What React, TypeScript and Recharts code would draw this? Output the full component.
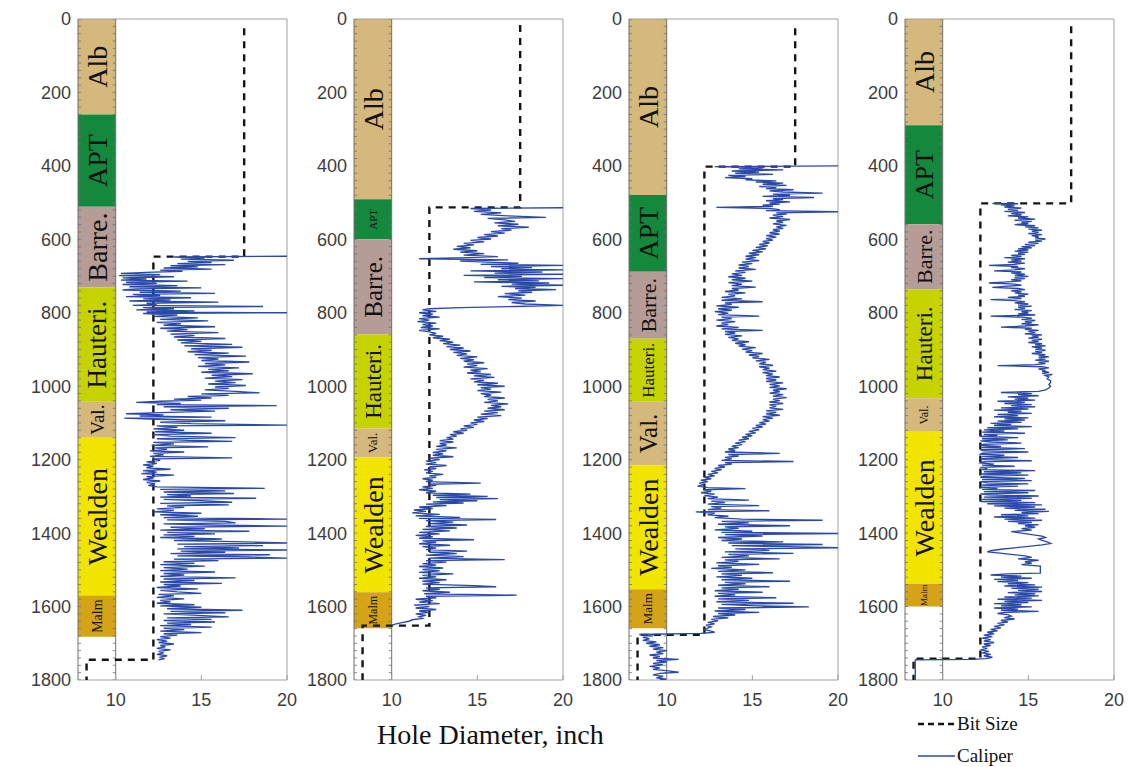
import { ComposedChart, ReferenceArea, ReferenceLine, Scatter, XAxis, YAxis } from 'recharts';

// ---- axes / ticks ----
const DEPTH_TICKS = [0, 200, 400, 600, 800, 1000, 1200, 1400, 1600, 1800];
const DIAM_TICKS = [10, 15, 20];
const X_MIN = 7.8;
const X_MAX = 20;
const COLUMN_EDGE = 10;
// ruler marks along the formation column, every 20 m
const RULER_TICKS = Array.from({ length: 91 }, (_, i) => i * 20);

// ---- formations: [name, top, base] (m) ----
const W1_FORMATIONS: [string, number, number][] = [
  ['Alb', 0, 260], ['APT', 260, 511], ['Barre.', 511, 731], ['Hauteri.', 731, 1042],
  ['Val.', 1042, 1140], ['Wealden', 1140, 1570], ['Malm', 1570, 1682],
];
const W2_FORMATIONS: [string, number, number][] = [
  ['Alb', 0, 491], ['APT', 491, 600], ['Barre.', 600, 859], ['Hauteri.', 859, 1115],
  ['Val.', 1115, 1194], ['Wealden', 1194, 1561], ['Malm', 1561, 1659],
];
const W3_FORMATIONS: [string, number, number][] = [
  ['Alb', 0, 479], ['APT', 479, 688], ['Barre.', 688, 871], ['Hauteri.', 871, 1042],
  ['Val.', 1042, 1215], ['Wealden', 1215, 1553], ['Malm', 1553, 1659],
];
const W4_FORMATIONS: [string, number, number][] = [
  ['Alb', 0, 289], ['APT', 289, 559], ['Barre.', 559, 736], ['Hauteri.', 736, 1033],
  ['Val.', 1033, 1124], ['Wealden', 1124, 1538], ['Malm', 1538, 1600],
];

// label font sizes, same order as the formations
const W1_LABEL_SIZES = [28, 28, 28, 27, 19, 28, 14];
const W2_LABEL_SIZES = [28, 11, 25, 23, 13, 28, 12];
const W3_LABEL_SIZES = [28, 28, 22, 17, 25, 28, 13];
const W4_LABEL_SIZES = [28, 26, 22, 23, 12, 28, 9];

// ---- bit size: [depth, diameter] ----
const W1_BIT: [number, number][] = [[25, 17.5], [647, 17.5], [647, 12.2], [1745, 12.2], [1745, 8.3], [1800, 8.3]];
const W2_BIT: [number, number][] = [[16, 17.5], [513, 17.5], [513, 12.2], [1652, 12.2], [1652, 8.3], [1800, 8.3]];
const W3_BIT: [number, number][] = [[25, 17.5], [402, 17.5], [402, 12.2], [1677, 12.2], [1677, 8.3], [1800, 8.3]];
const W4_BIT: [number, number][] = [[20, 17.5], [502, 17.5], [502, 12.2], [1742, 12.2], [1742, 8.3], [1800, 8.3]];

// ---- caliper: [depth, diameter] ----
const W1_CALIPER: [number, number][] = [
  [646, 20], [648, 13.4], [651, 15.2], [654, 13.8], [657, 16.9], [660, 14.2], [663, 15.6], [666, 13.6], [669, 16.4], [672, 13.2],
  [675, 14.8], [678, 12.8], [681, 15.6], [684, 12.6], [687, 13.9], [690, 11.8], [693, 10.3], [696, 12.6], [699, 10.2], [702, 13.4],
  [705, 10.4], [708, 11.8], [711, 10.3], [714, 14.2], [717, 10.6], [720, 12.4], [723, 10.4], [726, 13.6], [729, 10.8], [732, 15.0],
  [735, 11.2], [738, 10.4], [741, 13.8], [744, 11.4], [747, 15.8], [750, 11.0], [753, 12.6], [756, 10.6], [759, 14.4], [762, 11.6],
  [765, 13.2], [768, 10.8], [771, 16.0], [774, 11.8], [777, 12.4], [780, 11.0], [783, 18.6], [786, 11.6], [789, 13.4], [792, 11.2],
  [795, 14.6], [798, 11.8], [800, 20], [802, 11.6], [806, 13.6], [810, 12.2], [814, 14.8], [818, 12.6], [822, 15.4], [826, 12.4],
  [830, 13.8], [834, 12.8], [838, 15.8], [842, 12.6], [846, 14.2], [850, 13.0], [854, 16.0], [858, 13.2], [862, 14.6], [866, 13.4],
  [870, 16.4], [874, 13.6], [878, 15.0], [882, 13.8], [886, 16.8], [890, 14.0], [894, 17.4], [898, 14.4], [902, 15.6], [906, 14.2],
  [910, 16.6], [914, 14.6], [918, 17.6], [922, 14.8], [926, 16.0], [930, 15.0], [934, 17.8], [938, 15.2], [942, 16.4], [946, 14.8],
  [950, 17.2], [954, 15.4], [958, 16.6], [962, 15.0], [966, 18.0], [970, 15.6], [974, 16.8], [978, 15.2], [982, 17.4], [986, 15.8],
  [990, 17.0], [994, 15.4], [998, 17.6], [1002, 15.8], [1006, 16.6], [1010, 15.2], [1014, 17.0], [1018, 18.4], [1021, 15.0], [1025, 16.6],
  [1028, 14.2], [1032, 15.6], [1035, 13.4], [1038, 15.0], [1041, 12.6], [1044, 11.2], [1047, 13.8], [1050, 12.4], [1053, 19.4], [1056, 12.8],
  [1060, 16.6], [1064, 13.2], [1068, 15.8], [1072, 12.6], [1075, 10.6], [1078, 12.8], [1081, 11.4], [1084, 15.6], [1087, 10.5], [1090, 12.4],
  [1094, 16.4], [1098, 12.6], [1102, 14.4], [1106, 20], [1108, 12.4], [1112, 13.6], [1116, 12.2], [1120, 14.0], [1124, 12.3], [1128, 15.6],
  [1132, 12.2], [1136, 13.2], [1140, 17.0], [1143, 12.4], [1147, 14.2], [1150, 16.8], [1153, 12.2], [1157, 13.4], [1161, 12.1], [1165, 15.4],
  [1168, 12.3], [1172, 13.0], [1176, 12.0], [1179, 14.0], [1183, 12.2], [1187, 12.8], [1191, 12.0], [1195, 16.8], [1198, 12.2], [1202, 12.6],
  [1206, 11.8], [1210, 12.4], [1214, 11.6], [1218, 12.2], [1222, 11.8], [1226, 13.2], [1230, 11.6], [1234, 12.4], [1238, 11.5], [1242, 13.4],
  [1246, 11.8], [1250, 12.2], [1254, 11.6], [1258, 12.6], [1262, 11.8], [1266, 12.3], [1270, 11.9], [1274, 12.4], [1278, 18.7], [1281, 12.6],
  [1285, 16.4], [1288, 12.8], [1292, 16.9], [1295, 13.0], [1299, 14.4], [1302, 12.6], [1305, 18.2], [1308, 12.8], [1312, 15.0], [1316, 16.8],
  [1319, 12.6], [1323, 16.6], [1326, 13.0], [1330, 14.0], [1334, 12.4], [1338, 13.4], [1342, 12.2], [1346, 15.0], [1350, 12.6], [1354, 14.8],
  [1358, 12.8], [1362, 20], [1364, 13.0], [1368, 16.4], [1372, 17.0], [1375, 12.8], [1378, 15.6], [1381, 20], [1384, 13.2], [1388, 15.2],
  [1392, 12.6], [1395, 17.8], [1398, 13.0], [1402, 15.8], [1405, 12.8], [1409, 14.6], [1412, 12.6], [1416, 16.2], [1420, 13.4], [1424, 17.6],
  [1427, 20], [1430, 13.6], [1434, 18.6], [1437, 14.0], [1440, 17.2], [1443, 13.6], [1446, 20], [1449, 13.8], [1452, 16.4], [1456, 13.2],
  [1459, 19.0], [1462, 13.6], [1465, 17.8], [1468, 20], [1471, 13.4], [1475, 16.0], [1478, 12.8], [1482, 14.6], [1486, 12.6], [1490, 15.2],
  [1494, 12.8], [1498, 14.2], [1502, 12.6], [1506, 15.8], [1510, 12.8], [1514, 14.0], [1518, 12.6], [1522, 17.0], [1525, 12.8], [1529, 14.6],
  [1533, 12.6], [1537, 16.2], [1540, 12.8], [1544, 13.8], [1548, 12.4], [1552, 14.8], [1556, 12.6], [1560, 13.6], [1564, 15.0], [1567, 12.5],
  [1571, 13.4], [1575, 12.4], [1579, 14.0], [1583, 12.6], [1587, 13.2], [1591, 12.4], [1595, 14.6], [1598, 12.6], [1602, 15.0], [1606, 13.0],
  [1610, 17.4], [1613, 13.2], [1617, 16.4], [1620, 12.8], [1624, 14.8], [1628, 16.6], [1631, 13.0], [1635, 15.6], [1638, 12.8], [1642, 15.8],
  [1645, 13.0], [1649, 14.4], [1652, 12.6], [1656, 15.6], [1659, 12.8], [1663, 14.0], [1667, 12.6], [1671, 15.0], [1674, 12.8], [1678, 13.6],
  [1682, 12.6], [1686, 13.2], [1690, 12.4], [1694, 13.0], [1698, 12.5], [1702, 13.4], [1706, 12.6], [1710, 12.9], [1714, 12.4], [1718, 13.2],
  [1722, 12.5], [1726, 12.8], [1730, 12.4], [1734, 13.0], [1738, 12.6], [1742, 12.8], [1745, 12.5],
];

const W2_CALIPER: [number, number][] = [
  [514, 20], [516, 14.6], [520, 15.8], [524, 14.8], [528, 16.4], [532, 15.2], [536, 16.8], [540, 19.0], [543, 15.6], [547, 16.6],
  [551, 17.2], [555, 16.0], [559, 17.4], [563, 16.2], [567, 18.0], [571, 16.4], [575, 17.0], [579, 15.8], [583, 16.6], [587, 15.4],
  [591, 16.2], [595, 15.0], [599, 15.8], [603, 14.6], [607, 15.4], [611, 14.2], [615, 14.8], [619, 13.8], [623, 14.6], [627, 13.6],
  [631, 15.0], [635, 14.0], [639, 15.4], [643, 14.2], [647, 16.2], [650, 14.4], [653, 11.6], [656, 16.8], [659, 14.0], [662, 15.6],
  [665, 17.4], [668, 15.2], [671, 20], [674, 15.8], [677, 18.2], [680, 16.4], [683, 20], [686, 14.6], [689, 18.8], [692, 16.0],
  [695, 20], [698, 14.2], [701, 17.6], [704, 15.4], [707, 20], [710, 16.2], [713, 18.6], [716, 14.8], [719, 19.2], [722, 17.0],
  [725, 20], [728, 16.4], [731, 18.4], [734, 17.2], [737, 19.6], [740, 17.4], [744, 18.2], [748, 16.6], [752, 17.8], [756, 16.2],
  [760, 17.6], [764, 16.8], [768, 18.4], [772, 17.0], [776, 17.8], [780, 20], [783, 17.2], [786, 14.0], [789, 12.2], [792, 11.8],
  [796, 12.6], [800, 11.6], [804, 12.4], [808, 11.8], [812, 12.8], [816, 11.6], [820, 12.2], [824, 11.5], [828, 12.6], [832, 11.8],
  [836, 12.4], [840, 11.7], [844, 12.8], [848, 11.6], [852, 12.2], [856, 12.6], [860, 12.2], [864, 13.0], [868, 12.4], [872, 13.4],
  [876, 12.8], [880, 13.6], [884, 13.0], [888, 14.0], [892, 13.2], [896, 14.2], [900, 13.4], [904, 14.6], [908, 13.6], [912, 14.4],
  [916, 13.8], [920, 15.0], [924, 14.0], [928, 14.8], [932, 14.2], [936, 15.4], [940, 14.4], [944, 15.0], [948, 14.2], [952, 15.6],
  [956, 14.6], [960, 15.2], [964, 14.4], [968, 15.8], [972, 14.8], [976, 16.0], [980, 14.6], [984, 15.4], [988, 14.8], [992, 16.2],
  [996, 15.0], [1000, 16.6], [1004, 15.2], [1008, 15.8], [1012, 15.0], [1016, 16.4], [1020, 15.2], [1024, 15.8], [1028, 15.4], [1032, 16.6],
  [1036, 15.6], [1040, 16.2], [1044, 15.4], [1048, 16.8], [1052, 15.8], [1056, 16.4], [1060, 15.6], [1064, 16.6], [1068, 15.4], [1072, 16.2],
  [1076, 15.2], [1080, 16.4], [1084, 15.0], [1088, 15.6], [1092, 14.8], [1096, 15.4], [1100, 14.6], [1104, 15.0], [1108, 14.2], [1112, 14.8],
  [1116, 14.0], [1120, 14.4], [1124, 13.6], [1128, 14.2], [1132, 13.4], [1136, 13.8], [1140, 13.2], [1144, 13.6], [1148, 12.8], [1152, 13.6],
  [1156, 12.8], [1160, 13.2], [1164, 12.6], [1168, 13.8], [1172, 12.6], [1176, 13.2], [1180, 12.4], [1184, 13.0], [1188, 12.4], [1192, 13.6],
  [1196, 12.2], [1200, 12.8], [1204, 12.0], [1208, 12.6], [1212, 12.0], [1216, 13.2], [1220, 12.2], [1224, 12.6], [1228, 11.9], [1232, 12.4],
  [1236, 12.0], [1240, 13.0], [1244, 12.2], [1248, 12.6], [1252, 11.8], [1256, 12.4], [1260, 12.0], [1264, 15.2], [1267, 12.2], [1270, 12.6],
  [1274, 11.8], [1278, 12.4], [1282, 11.6], [1286, 12.6], [1290, 12.0], [1294, 14.6], [1297, 12.4], [1300, 15.6], [1303, 12.6], [1306, 16.2],
  [1309, 12.8], [1312, 15.0], [1315, 12.4], [1318, 14.2], [1321, 12.0], [1325, 13.2], [1329, 11.6], [1333, 12.4], [1337, 11.3], [1341, 12.0],
  [1345, 11.2], [1349, 12.8], [1353, 11.4], [1357, 14.0], [1360, 11.6], [1363, 16.1], [1366, 12.0], [1370, 13.6], [1374, 12.2], [1378, 14.4],
  [1382, 12.0], [1386, 13.8], [1390, 11.8], [1394, 13.4], [1398, 11.6], [1402, 12.8], [1406, 11.4], [1410, 12.4], [1414, 11.6], [1418, 14.8],
  [1421, 11.8], [1425, 12.6], [1429, 11.6], [1433, 13.4], [1437, 11.8], [1441, 12.6], [1445, 12.0], [1449, 14.4], [1452, 12.2], [1456, 13.8],
  [1460, 12.0], [1464, 14.2], [1468, 12.2], [1472, 16.6], [1475, 12.0], [1479, 13.2], [1483, 11.8], [1487, 12.6], [1491, 11.6], [1495, 13.0],
  [1499, 11.8], [1503, 12.8], [1507, 11.6], [1511, 13.6], [1515, 11.8], [1519, 12.6], [1523, 11.6], [1527, 13.2], [1531, 11.8], [1535, 12.8],
  [1539, 11.8], [1543, 14.8], [1546, 16.1], [1549, 12.0], [1553, 12.8], [1557, 11.8], [1561, 13.4], [1565, 11.9], [1569, 17.3], [1572, 12.0],
  [1576, 12.6], [1580, 11.4], [1584, 12.4], [1588, 11.6], [1592, 12.8], [1596, 11.3], [1600, 12.2], [1604, 11.4], [1608, 12.6], [1612, 11.6],
  [1616, 12.2], [1620, 11.4], [1624, 12.0], [1628, 11.6], [1632, 11.8], [1636, 11.2], [1640, 11.0], [1644, 10.6], [1648, 10.2], [1651, 10.0],
];

const W3_CALIPER: [number, number][] = [
  [400, 20], [402, 12.8], [405, 15.6], [408, 14.2], [411, 16.8], [414, 13.8], [417, 15.4], [420, 14.0], [423, 16.2], [426, 13.6],
  [429, 14.6], [432, 13.4], [435, 15.0], [438, 14.6], [441, 16.4], [444, 15.2], [447, 16.8], [450, 15.6], [453, 17.0], [456, 15.4],
  [459, 16.4], [462, 15.8], [465, 17.4], [468, 16.0], [471, 16.8], [474, 19.1], [477, 16.2], [480, 17.2], [483, 15.6], [486, 18.6],
  [489, 16.2], [492, 16.8], [495, 15.8], [498, 17.2], [501, 16.0], [504, 16.6], [507, 15.6], [510, 16.2], [513, 12.9], [516, 16.0],
  [519, 16.6], [522, 15.8], [525, 20], [528, 16.4], [531, 17.0], [534, 16.2], [538, 16.8], [542, 16.0], [546, 17.2], [550, 16.4],
  [554, 16.8], [558, 16.2], [562, 17.0], [566, 16.4], [570, 16.8], [574, 16.2], [578, 16.6], [582, 16.0], [586, 16.6], [590, 15.8],
  [594, 16.4], [598, 15.8], [602, 16.2], [606, 15.6], [610, 16.0], [614, 15.4], [618, 15.9], [622, 15.2], [626, 15.8], [630, 15.0],
  [634, 15.6], [638, 14.8], [642, 15.4], [646, 14.6], [650, 15.2], [654, 14.6], [658, 15.4], [662, 14.4], [666, 15.0], [670, 14.2],
  [674, 14.8], [678, 14.2], [682, 15.2], [686, 14.0], [690, 14.6], [694, 13.8], [698, 14.4], [702, 13.6], [706, 14.6], [710, 13.8],
  [714, 15.0], [718, 13.6], [722, 14.4], [726, 13.8], [730, 15.2], [734, 13.8], [738, 14.2], [742, 13.4], [746, 14.6], [750, 13.6],
  [754, 14.0], [758, 13.2], [762, 14.4], [766, 13.2], [770, 15.6], [773, 13.4], [777, 13.8], [781, 12.9], [785, 14.2], [789, 13.0],
  [793, 13.8], [797, 12.8], [801, 13.6], [805, 13.0], [809, 15.4], [812, 13.2], [816, 13.8], [820, 12.9], [824, 14.0], [828, 13.2],
  [832, 13.6], [836, 12.9], [840, 14.2], [844, 13.2], [848, 15.6], [851, 13.4], [855, 14.0], [859, 13.4], [863, 14.4], [867, 13.6],
  [871, 14.2], [875, 13.8], [879, 14.8], [883, 14.0], [887, 14.6], [891, 14.2], [895, 15.2], [899, 14.4], [903, 15.0], [907, 14.6],
  [911, 15.6], [915, 14.8], [919, 15.4], [923, 15.0], [927, 16.0], [931, 15.2], [935, 15.8], [939, 15.4], [943, 16.2], [947, 15.4],
  [951, 16.0], [955, 15.6], [959, 16.4], [963, 15.6], [967, 16.2], [971, 15.8], [975, 16.6], [979, 15.8], [983, 16.4], [987, 15.8],
  [991, 16.8], [995, 16.0], [999, 16.6], [1003, 16.0], [1007, 17.0], [1011, 16.2], [1015, 16.6], [1019, 16.0], [1023, 16.8], [1027, 16.2],
  [1031, 17.0], [1035, 16.2], [1039, 16.6], [1043, 16.0], [1047, 16.8], [1051, 16.0], [1055, 16.4], [1059, 16.0], [1063, 16.8], [1067, 15.8],
  [1071, 16.4], [1075, 15.8], [1079, 16.6], [1083, 15.6], [1087, 16.2], [1091, 15.6], [1095, 16.0], [1099, 15.4], [1103, 15.8], [1107, 15.2],
  [1111, 15.6], [1115, 15.0], [1119, 15.4], [1123, 14.8], [1127, 15.2], [1131, 14.6], [1135, 15.0], [1139, 14.4], [1143, 14.8], [1147, 14.2],
  [1151, 14.6], [1155, 14.0], [1159, 14.4], [1163, 13.8], [1167, 14.2], [1171, 13.6], [1175, 14.0], [1179, 13.4], [1183, 16.6], [1186, 13.6],
  [1190, 14.2], [1194, 13.4], [1198, 13.8], [1202, 13.2], [1205, 17.4], [1208, 13.4], [1212, 13.8], [1216, 13.0], [1220, 13.4], [1224, 12.8],
  [1228, 13.2], [1232, 12.6], [1236, 13.0], [1240, 12.4], [1244, 12.8], [1248, 12.2], [1252, 12.6], [1256, 12.0], [1260, 12.4], [1264, 11.9],
  [1268, 12.2], [1272, 11.8], [1276, 12.4], [1279, 14.6], [1282, 12.2], [1286, 12.6], [1290, 12.0], [1294, 12.8], [1298, 12.2], [1302, 13.0],
  [1306, 12.4], [1310, 14.8], [1313, 12.6], [1317, 13.4], [1321, 12.4], [1325, 15.4], [1328, 12.6], [1332, 13.2], [1336, 12.4], [1339, 16.0],
  [1342, 11.7], [1346, 12.8], [1350, 12.4], [1354, 13.6], [1358, 12.8], [1362, 14.4], [1365, 19.1], [1368, 13.2], [1372, 14.8], [1376, 13.0],
  [1380, 17.2], [1383, 13.4], [1387, 14.2], [1391, 12.8], [1395, 15.0], [1398, 13.2], [1401, 20], [1404, 13.4], [1408, 15.6], [1412, 13.0],
  [1416, 14.4], [1420, 13.2], [1424, 16.8], [1427, 13.6], [1431, 19.1], [1434, 13.8], [1437, 17.0], [1440, 20], [1443, 14.0], [1447, 16.0],
  [1451, 13.4], [1455, 17.4], [1458, 13.6], [1462, 14.8], [1466, 13.2], [1470, 16.6], [1473, 13.4], [1477, 14.2], [1481, 12.9], [1485, 15.4],
  [1489, 13.0], [1493, 13.8], [1496, 12.6], [1500, 14.6], [1504, 13.0], [1508, 16.2], [1511, 13.2], [1515, 14.4], [1519, 12.9], [1523, 15.0],
  [1527, 13.2], [1531, 17.2], [1534, 13.4], [1538, 14.6], [1542, 13.0], [1546, 16.0], [1549, 13.2], [1553, 14.2], [1557, 12.8], [1561, 15.6],
  [1564, 13.0], [1568, 14.0], [1572, 12.8], [1576, 16.4], [1579, 13.0], [1583, 14.8], [1587, 12.9], [1591, 17.4], [1594, 13.2], [1598, 15.2],
  [1601, 18.3], [1604, 13.0], [1608, 14.6], [1612, 12.8], [1616, 15.4], [1619, 13.0], [1623, 14.0], [1627, 12.7], [1631, 13.6], [1635, 12.6],
  [1639, 13.0], [1643, 12.4], [1647, 12.8], [1651, 12.3], [1655, 12.6], [1659, 12.4], [1663, 12.2], [1667, 12.6], [1670, 12.8], [1673, 12.0],
  [1676, 8.4], [1680, 9.2], [1684, 8.6], [1688, 9.0], [1692, 8.6], [1696, 9.4], [1700, 8.8], [1704, 9.6], [1708, 9.0], [1712, 9.8],
  [1716, 9.2], [1720, 10.0], [1724, 9.4], [1728, 9.8], [1732, 9.0], [1736, 9.6], [1740, 9.2], [1744, 10.7], [1747, 9.4], [1751, 10.0],
  [1755, 9.2], [1759, 9.8], [1763, 9.0], [1767, 9.6], [1771, 9.2], [1775, 10.1], [1779, 10.7], [1782, 9.6], [1786, 9.2], [1790, 9.8],
  [1794, 9.4], [1798, 10.0], [1800, 9.6],
];

const W4_CALIPER: [number, number][] = [
  [502, 12.9], [503, 14.4], [506, 13.4], [509, 14.2], [512, 13.6], [515, 14.6], [518, 13.8], [521, 14.4], [524, 13.6], [527, 14.8],
  [530, 14.0], [533, 14.6], [536, 13.8], [539, 15.0], [542, 14.4], [545, 15.4], [548, 14.2], [551, 15.2], [554, 14.6], [557, 15.0],
  [560, 14.2], [563, 15.4], [566, 14.8], [569, 15.6], [572, 15.0], [575, 15.8], [578, 15.2], [581, 15.6], [584, 15.0], [587, 15.8],
  [590, 15.2], [593, 15.6], [596, 15.4], [599, 16.0], [602, 15.4], [605, 15.8], [608, 15.0], [611, 15.6], [614, 14.8], [617, 15.4],
  [620, 14.6], [623, 15.2], [626, 14.4], [629, 15.0], [632, 14.2], [635, 15.0], [638, 14.4], [641, 14.8], [644, 14.0], [647, 14.6],
  [650, 13.6], [653, 14.8], [656, 14.0], [659, 14.6], [662, 13.8], [665, 14.8], [668, 14.2], [671, 12.7], [674, 14.4], [677, 14.0],
  [680, 14.8], [683, 14.2], [686, 13.0], [689, 14.6], [692, 14.0], [695, 14.8], [698, 14.2], [701, 15.0], [704, 14.2], [707, 14.8],
  [710, 14.0], [713, 14.6], [716, 13.8], [719, 12.7], [722, 14.2], [725, 14.6], [728, 13.6], [731, 12.9], [734, 14.4], [737, 14.8],
  [740, 14.0], [743, 14.6], [746, 14.2], [749, 15.0], [752, 14.4], [755, 14.8], [758, 13.8], [761, 14.6], [764, 12.8], [767, 14.2],
  [770, 14.8], [773, 14.2], [776, 15.0], [779, 14.4], [782, 15.2], [785, 14.4], [788, 14.8], [791, 14.2], [794, 15.2], [797, 14.6],
  [800, 15.0], [803, 14.4], [806, 15.4], [809, 12.8], [812, 14.6], [815, 15.2], [818, 14.6], [821, 15.4], [824, 14.8], [827, 15.2],
  [830, 14.6], [833, 15.6], [836, 14.8], [839, 13.4], [842, 15.2], [845, 14.8], [848, 15.6], [851, 15.0], [854, 15.4], [857, 14.8],
  [860, 15.8], [863, 15.2], [866, 15.6], [869, 15.0], [872, 15.8], [875, 15.2], [878, 15.6], [881, 15.0], [884, 15.8], [887, 15.4],
  [890, 16.0], [893, 15.2], [896, 15.8], [899, 15.4], [902, 16.0], [905, 15.4], [908, 15.8], [911, 15.2], [914, 16.0], [917, 15.6],
  [920, 16.2], [923, 15.6], [926, 16.0], [929, 15.4], [932, 16.2], [935, 15.6], [938, 16.0], [941, 15.4], [944, 13.2], [947, 15.8],
  [950, 16.2], [953, 15.6], [956, 16.0], [959, 15.8], [962, 16.2], [965, 15.8], [968, 16.4], [971, 16.0], [975, 16.2], [980, 16.1],
  [985, 16.3], [990, 16.3], [995, 16.2], [1000, 16.3], [1005, 16.2], [1010, 16.0], [1014, 15.6], [1017, 13.4], [1020, 15.2], [1023, 14.4],
  [1026, 15.6], [1029, 13.8], [1032, 15.0], [1035, 14.2], [1038, 15.4], [1041, 13.2], [1044, 14.8], [1047, 13.6], [1050, 15.2], [1053, 14.0],
  [1056, 15.4], [1059, 13.4], [1062, 15.0], [1065, 13.0], [1068, 14.6], [1071, 13.8], [1074, 15.2], [1077, 13.2], [1080, 14.4], [1083, 13.0],
  [1086, 15.0], [1089, 13.6], [1092, 14.8], [1095, 13.2], [1098, 14.6], [1101, 12.8], [1104, 14.0], [1107, 13.0], [1110, 15.2], [1113, 12.6],
  [1116, 14.4], [1119, 12.4], [1122, 13.6], [1125, 12.3], [1128, 14.8], [1131, 12.4], [1134, 13.2], [1137, 12.2], [1140, 14.4], [1143, 12.3],
  [1146, 13.8], [1149, 12.2], [1152, 12.8], [1155, 14.6], [1158, 12.4], [1161, 12.2], [1164, 13.4], [1167, 12.3], [1170, 14.8], [1173, 12.2],
  [1176, 12.4], [1179, 15.0], [1182, 12.3], [1185, 12.2], [1188, 13.6], [1191, 12.3], [1194, 14.4], [1197, 12.2], [1200, 12.4], [1203, 15.2],
  [1206, 12.3], [1209, 12.2], [1212, 13.0], [1215, 12.3], [1218, 14.2], [1221, 12.2], [1224, 12.6], [1227, 12.3], [1230, 15.4], [1233, 12.4],
  [1236, 14.6], [1239, 12.2], [1242, 15.0], [1245, 12.4], [1248, 12.2], [1251, 14.8], [1254, 12.3], [1257, 15.2], [1260, 12.2], [1263, 12.6],
  [1266, 15.0], [1269, 12.3], [1272, 14.4], [1275, 12.2], [1278, 13.2], [1281, 12.3], [1284, 15.4], [1287, 12.4], [1290, 15.0], [1293, 12.2],
  [1296, 12.6], [1299, 15.6], [1302, 12.4], [1305, 15.2], [1308, 12.3], [1311, 14.6], [1314, 12.2], [1317, 15.4], [1320, 12.6], [1323, 15.8],
  [1326, 13.0], [1329, 15.4], [1332, 13.6], [1335, 16.0], [1338, 14.2], [1341, 16.2], [1344, 14.6], [1347, 15.6], [1350, 13.4], [1353, 15.0],
  [1356, 13.0], [1359, 15.4], [1362, 13.6], [1365, 15.8], [1368, 13.8], [1371, 15.2], [1374, 14.4], [1377, 15.6], [1380, 14.8], [1384, 15.4],
  [1388, 14.6], [1392, 15.2], [1396, 14.0], [1400, 14.6], [1404, 15.2], [1408, 15.8], [1412, 16.0], [1416, 15.6], [1420, 15.8], [1424, 16.1],
  [1428, 16.3], [1432, 15.8], [1436, 15.0], [1440, 14.2], [1444, 13.4], [1448, 12.8], [1451, 12.6], [1454, 13.2], [1458, 14.0], [1462, 14.8],
  [1466, 15.2], [1470, 14.4], [1474, 15.6], [1478, 14.8], [1482, 15.2], [1486, 14.6], [1490, 15.7], [1495, 15.7], [1500, 15.7], [1505, 15.7],
  [1509, 15.7], [1511, 13.8], [1514, 12.8], [1517, 14.6], [1520, 13.4], [1523, 15.2], [1526, 13.0], [1529, 14.4], [1532, 13.2], [1535, 15.0],
  [1538, 13.8], [1541, 15.4], [1544, 13.6], [1547, 15.8], [1550, 14.0], [1553, 15.6], [1556, 14.4], [1559, 15.8], [1562, 13.8], [1565, 15.4],
  [1568, 14.2], [1571, 15.6], [1574, 13.6], [1577, 15.2], [1580, 13.2], [1583, 15.8], [1586, 13.6], [1589, 15.0], [1592, 13.0], [1595, 14.6],
  [1598, 13.4], [1601, 15.2], [1604, 13.0], [1607, 14.4], [1610, 13.4], [1613, 15.6], [1616, 13.6], [1619, 13.2], [1622, 13.8], [1626, 14.0],
  [1630, 13.6], [1634, 14.2], [1638, 13.4], [1642, 13.8], [1646, 13.2], [1650, 13.6], [1654, 13.0], [1658, 13.4], [1662, 12.8], [1666, 13.2],
  [1670, 12.6], [1674, 13.0], [1678, 12.4], [1682, 12.9], [1686, 12.3], [1690, 12.8], [1694, 12.4], [1698, 13.0], [1702, 12.4], [1706, 12.8],
  [1710, 12.3], [1714, 12.6], [1718, 12.2], [1722, 12.7], [1726, 12.3], [1730, 12.8], [1734, 12.4], [1738, 12.9], [1742, 12.5], [1744, 11.6],
  [1745, 8.4], [1800, 8.4],
];

// ---- styling ----
const SERIF = '"Liberation Serif", "Times New Roman", Times, serif';
const SANS = '"Liberation Sans", Arial, Helvetica, sans-serif';
const BORDER = '#a0a0a0';
const EDGE = '#707070';
const TICK_TEXT = '#3d3d3d';
const CALIPER_BLUE = '#2b4aa8';
const BIT_BLACK = '#141414';

const FORMATION_COLORS: Record<string, string> = {
  Alb: '#d5b87b',
  APT: '#14893d',
  'Barre.': '#b59c97',
  'Hauteri.': '#c6d300',
  'Val.': '#d5b87b',
  Wealden: '#f1e500',
  Malm: '#d4a318',
};

const CHART_W = 282;
const CHART_H = 767;
const Y_AXIS_W = 55;
const X_AXIS_H = 87;
const X_TICK_GAP = 12;
const PANEL_LEFTS = [23, 299, 574, 850];

const toPoints = (rows: [number, number][]) => rows.map(([depth, diam]) => ({ x: diam, y: depth }));

function BottomTick({ x, y, payload }: any) {
  return (
    <g>
      <line x1={x} x2={x} y1={y - X_TICK_GAP} y2={y - X_TICK_GAP - 5} stroke={BORDER} />
      <text x={x} y={y} dy="0.75em" textAnchor="middle" fontFamily={SANS} fontSize={18} fill={TICK_TEXT}>
        {payload.value}
      </text>
    </g>
  );
}

function LeftTick({ x, y, payload }: any) {
  return (
    <text x={x} y={y} dy="0.36em" textAnchor="end" fontFamily={SANS} fontSize={18} fill={TICK_TEXT}>
      {payload.value}
    </text>
  );
}

const NoDot = () => <g />;
const RulerLeft = ({ cx, cy }: any) => <line x1={cx} x2={cx + 3} y1={cy} y2={cy} stroke={EDGE} strokeWidth={0.8} />;
const RulerRight = ({ cx, cy }: any) => <line x1={cx - 3} x2={cx} y1={cy} y2={cy} stroke={EDGE} strokeWidth={0.8} />;

interface WellProps {
  formations: [string, number, number][];
  labelSizes: number[];
  bit: [number, number][];
  caliper: [number, number][];
  left: number;
}

function WellPanel({ formations, labelSizes, bit, caliper, left }: WellProps) {
  const rulerLeft = RULER_TICKS.map((d) => ({ x: X_MIN, y: d }));
  const rulerRight = RULER_TICKS.map((d) => ({ x: COLUMN_EDGE, y: d }));

  return (
    <div style={{ position: 'absolute', left, top: 0 }}>
      <ComposedChart width={CHART_W} height={CHART_H} margin={{ top: 19, right: CHART_W - Y_AXIS_W - 209, bottom: 0, left: 0 }}>
        {formations.map(([name, top, base], i) => (
          <ReferenceArea
            key={name}
            xAxisId="b"
            yAxisId="l"
            x1={X_MIN}
            x2={COLUMN_EDGE}
            y1={top}
            y2={base}
            fill={FORMATION_COLORS[name]}
            fillOpacity={1}
            stroke="none"
            label={{
              value: name,
              position: 'center',
              angle: -90,
              fontSize: labelSizes[i],
              fontFamily: SERIF,
              fill: '#111',
            }}
          />
        ))}
        <ReferenceLine xAxisId="b" yAxisId="l" x={COLUMN_EDGE} stroke={EDGE} strokeWidth={1} />
        <Scatter xAxisId="b" yAxisId="l" data={rulerLeft} shape={RulerLeft} isAnimationActive={false} />
        <Scatter xAxisId="b" yAxisId="l" data={rulerRight} shape={RulerRight} isAnimationActive={false} />
        <Scatter
          xAxisId="b"
          yAxisId="l"
          data={toPoints(bit)}
          shape={NoDot}
          line={{ stroke: BIT_BLACK, strokeWidth: 2.4, strokeDasharray: '7 6' }}
          lineType="joint"
          isAnimationActive={false}
        />
        <Scatter
          xAxisId="b"
          yAxisId="l"
          data={toPoints(caliper)}
          shape={NoDot}
          line={{ stroke: CALIPER_BLUE, strokeWidth: 1.35 }}
          lineType="joint"
          isAnimationActive={false}
        />
        <XAxis
          xAxisId="b"
          type="number"
          dataKey="x"
          domain={[X_MIN, X_MAX]}
          ticks={DIAM_TICKS}
          allowDataOverflow
          height={X_AXIS_H}
          axisLine={{ stroke: BORDER }}
          tickLine={false}
          tickSize={0}
          tickMargin={X_TICK_GAP}
          tick={BottomTick}
        />
        <XAxis
          xAxisId="t"
          orientation="top"
          mirror
          type="number"
          dataKey="x"
          domain={[X_MIN, X_MAX]}
          ticks={DIAM_TICKS}
          allowDataOverflow
          axisLine={{ stroke: BORDER }}
          tickLine={{ stroke: BORDER }}
          tickSize={5}
          tick={false}
        />
        <YAxis
          yAxisId="l"
          type="number"
          dataKey="y"
          domain={[0, 1800]}
          reversed
          ticks={DEPTH_TICKS}
          allowDataOverflow
          width={Y_AXIS_W}
          axisLine={{ stroke: EDGE }}
          tickLine={false}
          tickSize={0}
          tickMargin={7}
          tick={LeftTick}
        />
        <YAxis
          yAxisId="r"
          orientation="right"
          mirror
          type="number"
          dataKey="y"
          domain={[0, 1800]}
          reversed
          ticks={DEPTH_TICKS}
          allowDataOverflow
          axisLine={{ stroke: BORDER }}
          tickLine={{ stroke: BORDER }}
          tickSize={5}
          tick={false}
        />
      </ComposedChart>
    </div>
  );
}

export default function App() {
  const wells: Omit<WellProps, 'left'>[] = [
    { formations: W1_FORMATIONS, labelSizes: W1_LABEL_SIZES, bit: W1_BIT, caliper: W1_CALIPER },
    { formations: W2_FORMATIONS, labelSizes: W2_LABEL_SIZES, bit: W2_BIT, caliper: W2_CALIPER },
    { formations: W3_FORMATIONS, labelSizes: W3_LABEL_SIZES, bit: W3_BIT, caliper: W3_CALIPER },
    { formations: W4_FORMATIONS, labelSizes: W4_LABEL_SIZES, bit: W4_BIT, caliper: W4_CALIPER },
  ];

  return (
    <div style={{ position: 'absolute', left: 0, top: 0, width: 1135, height: 767, background: '#fff', overflow: 'hidden' }}>
      {wells.map((w, i) => (
        <WellPanel key={i} {...w} left={PANEL_LEFTS[i]} />
      ))}

      <div
        style={{
          position: 'absolute',
          left: 377,
          top: 719,
          fontFamily: SERIF,
          fontSize: 28,
          lineHeight: '32px',
          color: '#111',
          whiteSpace: 'nowrap',
        }}
      >
        Hole Diameter, inch
      </div>

      <div style={{ position: 'absolute', left: 918, top: 712, fontFamily: SERIF, fontSize: 19, color: '#111' }}>
        <div style={{ display: 'flex', alignItems: 'center', height: 24 }}>
          <svg width={37} height={6}>
            <line x1={0} x2={37} y1={3} y2={3} stroke={BIT_BLACK} strokeWidth={2.4} strokeDasharray="6 4" />
          </svg>
          <span style={{ marginLeft: 2 }}>Bit Size</span>
        </div>
        <div style={{ display: 'flex', alignItems: 'center', height: 24, marginTop: 8 }}>
          <svg width={37} height={6}>
            <line x1={0} x2={37} y1={3} y2={3} stroke={CALIPER_BLUE} strokeWidth={1.4} />
          </svg>
          <span style={{ marginLeft: 2 }}>Caliper</span>
        </div>
      </div>
    </div>
  );
}
